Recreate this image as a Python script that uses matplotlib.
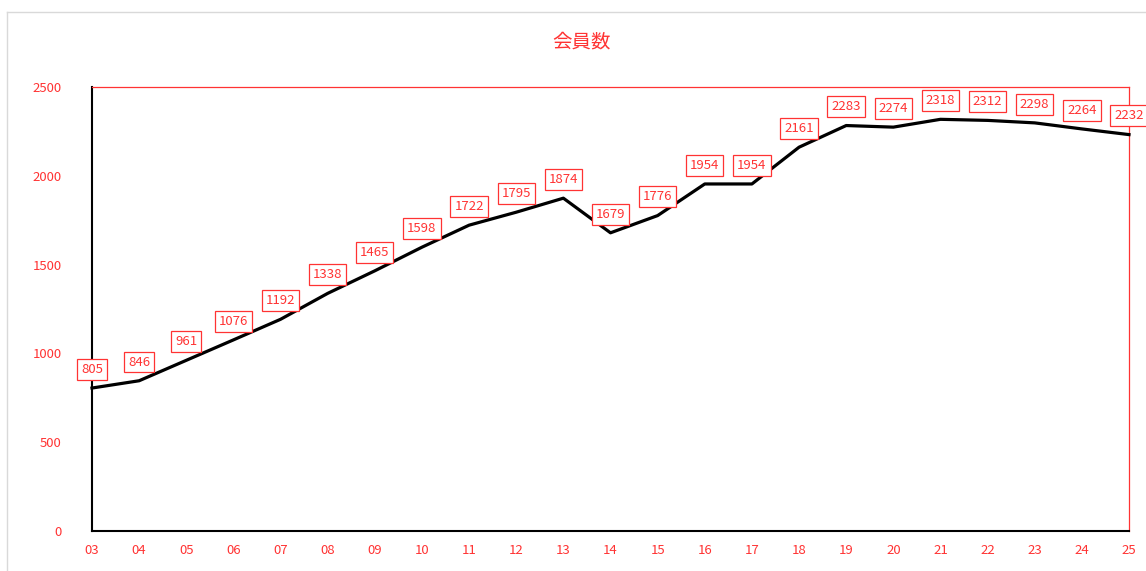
import matplotlib
matplotlib.use("Agg")
import matplotlib.pyplot as plt
from matplotlib.lines import Line2D

plt.rcParams['font.family'] = ['Noto Sans CJK JP', 'DejaVu Sans']

years = ["03", "04", "05", "06", "07", "08", "09", "10", "11", "12", "13", "14",
         "15", "16", "17", "18", "19", "20", "21", "22", "23", "24", "25"]
members = [805, 846, 961, 1076, 1192, 1338, 1465, 1598, 1722, 1795, 1874, 1679,
           1776, 1954, 1954, 2161, 2283, 2274, 2318, 2312, 2298, 2264, 2232]
yticks = [0, 500, 1000, 1500, 2000, 2500]
title = "会員数"

RED = "#ff3333"
W, H = 1146, 571
fig = plt.figure(figsize=(W / 100, H / 100), dpi=100)
ax = fig.add_axes([92 / W, 1 - 531 / H, (1129 - 92) / W, (531 - 87) / H])

x = list(range(len(years)))
ax.plot(x, members, color="black", lw=2.3, solid_joinstyle="round", clip_on=False, zorder=3)
for xi, v in zip(x, members):
    ax.annotate(str(v), (xi, v), xytext=(0, 13.5), textcoords="offset points",
                ha="center", va="center", fontsize=9.5, color=RED,
                bbox=dict(boxstyle="square,pad=0.3", fc="white", ec=RED, lw=0.9),
                zorder=5, annotation_clip=False)

ax.set_xlim(0, len(years) - 1)
ax.set_ylim(0, 2500)
ax.set_xticks(x)
ax.set_xticklabels(years)
ax.set_yticks(yticks)
ax.tick_params(axis="both", length=0, colors=RED, labelsize=9.5)
ax.tick_params(axis="x", pad=9)
ax.tick_params(axis="y", pad=22)
for lbl in ax.get_yticklabels() + ax.get_xticklabels():
    lbl.set_color(RED)

ax.spines["left"].set_color("black")
ax.spines["left"].set_linewidth(1.5)
ax.spines["bottom"].set_color("black")
ax.spines["bottom"].set_linewidth(1.5)
ax.spines["top"].set_color(RED)
ax.spines["top"].set_linewidth(0.9)
ax.spines["right"].set_color(RED)
ax.spines["right"].set_linewidth(0.9)

fig.text(582 / W, 1 - 42 / H, title, ha="center", va="center", fontsize=14, color=RED)

# outer chart-area frame (gray)
fig.add_artist(Line2D([7 / W, 7 / W], [0, 1 - 12 / H], transform=fig.transFigure, color="#d9d9d9", lw=1))
fig.add_artist(Line2D([7 / W, 1], [1 - 12 / H, 1 - 12 / H], transform=fig.transFigure, color="#d9d9d9", lw=1))

fig.savefig("out.png", dpi=100)
